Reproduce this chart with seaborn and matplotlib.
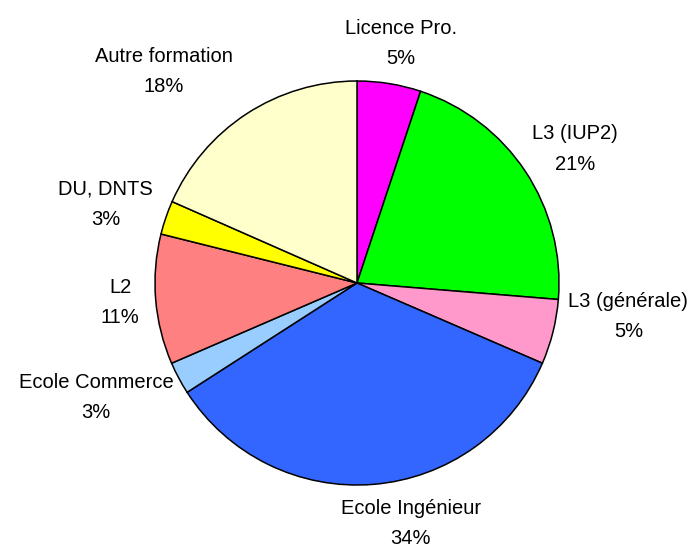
import matplotlib
matplotlib.use("Agg")
import matplotlib.pyplot as plt
import numpy as np
import seaborn as sns

# slices, clockwise from 12 o'clock
formations = ["Licence Pro.", "L3 (IUP2)", "L3 (générale)", "Ecole Ingénieur",
              "Ecole Commerce", "L2", "DU, DNTS", "Autre formation"]
parts = [5.1, 21.2, 5.2, 34.4, 2.6, 10.4, 2.7, 18.4]
pct_labels = ["5%", "21%", "5%", "34%", "3%", "11%", "3%", "18%"]
colors = ["#FF00FF", "#00FF00", "#FF99CC", "#3366FF",
          "#99CCFF", "#FF8080", "#FFFF00", "#FFFFCC"]

sns.set_theme(style="white")
plt.rcParams['font.family'] = ['Liberation Sans', 'DejaVu Sans']

fig = plt.figure(figsize=(6.95, 5.51), dpi=100)
ax = fig.add_axes([0, 0, 1, 1])

labels = [f"{f}\n{p}" for f, p in zip(formations, pct_labels)]
wedges, texts = ax.pie(parts, labels=labels, colors=colors, startangle=90,
                       counterclock=False, labeldistance=1.08,
                       wedgeprops=dict(edgecolor="black", linewidth=1.1),
                       textprops=dict(fontsize=14.5, linespacing=1.75, color="black"))

# 1 unit = 202 px, pie centre at (357, 283) px from top-left
ax.set_xlim(-357 / 202, (695 - 357) / 202)
ax.set_ylim(-(551 - 283) / 202, 283 / 202)
ax.set_aspect("auto")
ax.axis("off")

# small angular / radial nudges so labels sit where the original put them
nudge = [0, 0, 6, 6, 0, 0, 0, 5]
extra = [0, 0, -0.02, 0.01, 0, 0, 0, 0.13]

# push each label out so its box just touches the anchor point
fig.canvas.draw()
r = fig.canvas.get_renderer()
inv = ax.transData.inverted()
for w, t, d, e in zip(wedges, texts, nudge, extra):
    t.set_ha("center")
    t.set_va("center")
    bb = t.get_window_extent(r).transformed(inv)
    ang = np.deg2rad((w.theta1 + w.theta2) / 2 + d)
    ux, uy = np.cos(ang), np.sin(ang)
    x, y = (1.08 + e) * ux, (1.08 + e) * uy
    t.set_position((x + ux * bb.width / 2, y + uy * bb.height / 2))

fig.savefig("out.png", dpi=100, facecolor="white")
